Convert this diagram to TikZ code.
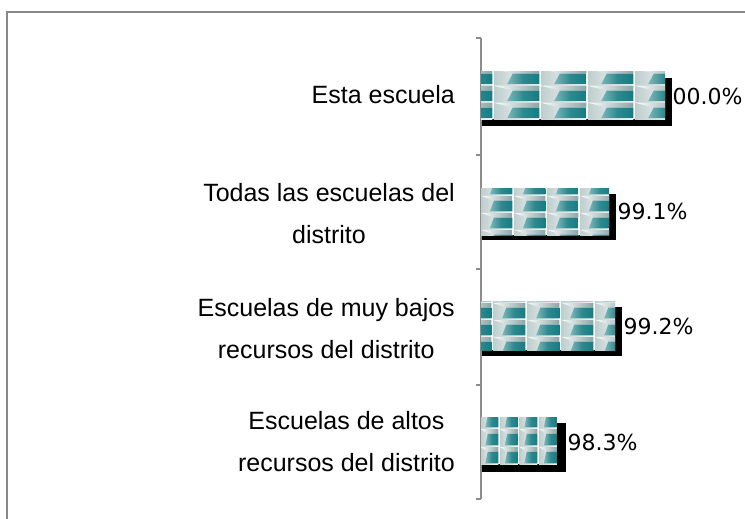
\documentclass[tikz,border=0pt]{standalone}
\usepackage{fontspec}
\setmainfont{Liberation Sans}
\newfontfamily\valfont{DejaVu Sans}
\definecolor{tteal}{RGB}{22,124,130}
\definecolor{tleft}{RGB}{190,205,205}
\definecolor{tgray}{RGB}{140,165,165}
\definecolor{framegray}{RGB}{136,136,136}
\definecolor{axisgray}{RGB}{140,140,140}
% tiles are drawn in an unflipped y system: y values are negated
\newcommand{\drawtile}[4]{%
  \shade[left color=tleft, right color=white] ({#1+0.75},{-(#2+0.75)}) rectangle ({#1+#3-0.75},{-(#2+#4-0.75)});
  \shade[left color=white, right color=tgray] ({#1+0.75},{-(#2+0.75)}) -- ({#1+#3-0.75},{-(#2+0.75)}) -- ({#1+#3-0.75},{-(#2+0.33*#4)}) -- ({#1+0.42*#3},{-(#2+0.33*#4)}) -- cycle;
  \shade[left color=tteal!55!white, right color=tteal, middle color=tteal!90!white] ({#1+0.3*#3},{-(#2+#4-0.75)}) -- ({#1+0.42*#3},{-(#2+0.33*#4)}) -- ({#1+#3-0.75},{-(#2+0.33*#4)}) -- ({#1+#3-0.75},{-(#2+#4-0.75)}) -- cycle;
}
\newcommand{\tilebar}[8]{%
  \begin{scope}[x=1pt,y=1pt]
    \clip (#1,-#2) rectangle (#3,-#4);
    \fill[white] (#1,-#2) rectangle (#3,-#4);
    \foreach \cx in {-1,0,...,12} {
      \foreach \cy in {-2,-1,0,1,2,3} {
        \pgfmathsetmacro{\tx}{#7+\cx*#5}
        \pgfmathsetmacro{\ty}{#8+\cy*#6}
        \drawtile{\tx}{\ty}{#5}{#6}
      }
    }
  \end{scope}}
\tikzset{
  catlabel/.style={anchor=east, align=center, inner sep=0pt, font=\fontsize{25}{42}\selectfont},
  vallabel/.style={anchor=base west, inner sep=0pt, font=\valfont\fontsize{22}{26}\selectfont},
  shadowbar/.style={fill=black},
  axisline/.style={draw=axisgray, line width=1.5pt}
}
\begin{document}
\begin{tikzpicture}[x=1pt, y=-1pt]
\useasboundingbox (0,0) rectangle (745,519);
% frame
\draw[framegray, line width=2pt] (7,530) -- (7,12.5) -- (760,12.5);
% axis
\draw[axisline] (481,38) -- (481,499);
\foreach \t in {38,155,269,385,499} { \draw[axisline] (475.5,\t) -- (481,\t); }
% value labels
\node[vallabel] (v1) at (658.5,104.5) {100.0\%};
\node[vallabel] (v2) at (617.5,219) {99.1\%};
\node[vallabel] (v3) at (623.5,334.5) {99.2\%};
\node[vallabel] (v4) at (567.5,450) {98.3\%};
% shadows
\fill[shadowbar] (482,78) rectangle (672,126);
\fill[shadowbar] (482,194) rectangle (616,240);
\fill[shadowbar] (482,307) rectangle (622,356);
\fill[shadowbar] (482,423) rectangle (566,472);
% bars
\tilebar{481}{72}{665}{119}{47}{17}{493}{85}
\tilebar{481}{188}{609}{235}{33}{17}{513}{195}
\tilebar{481}{301}{615}{350}{34}{17}{492}{319}
\tilebar{481}{417}{557}{464}{19.5}{18}{499}{428}
% category labels
\node[catlabel] (c1) at (455,94.5) {Esta escuela};
\node[catlabel] (c2) at (455,214) {Todas las escuelas del\\distrito};
\node[catlabel] (c3) at (455,328.5) {Escuelas de muy bajos\\recursos del distrito};
\node[catlabel] (c4) at (455,442) {Escuelas de altos\\recursos del distrito};
\end{tikzpicture}
\end{document}
